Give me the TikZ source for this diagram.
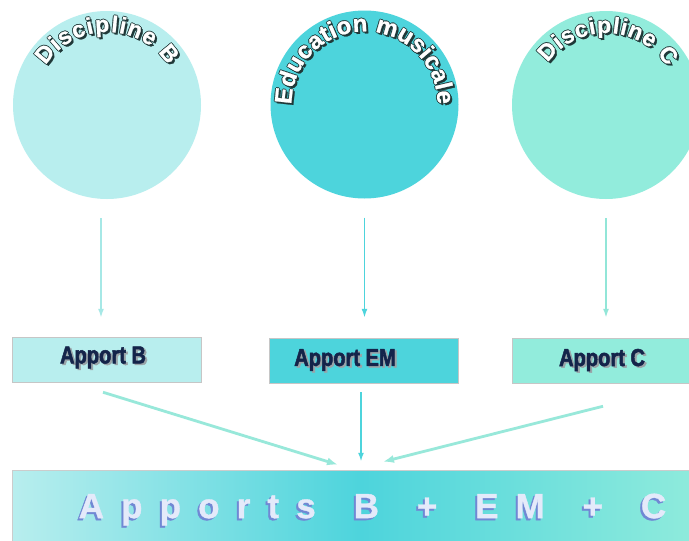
\documentclass[tikz,border=0pt]{standalone}
\usepackage{fontspec}
\setmainfont{Liberation Sans}
\newfontfamily\condfont[FakeStretch=0.82,FakeBold=2]{Liberation Sans}
\newfontfamily\arcfont[FakeBold=1]{Liberation Sans}
\newfontfamily\bigfont[LetterSpace=49,FakeBold=1]{Liberation Sans}
\usetikzlibrary{arrows.meta,decorations.text,calc}
\definecolor{colB}{HTML}{B8EEEE}
\definecolor{colEM}{HTML}{4DD4DC}
\definecolor{colC}{HTML}{92ECDC}
\definecolor{arrB}{HTML}{A6E8E6}
\definecolor{arrC}{HTML}{92E6D8}
\definecolor{arrD}{HTML}{98E8DA}
\definecolor{navytxt}{HTML}{14244A}
\definecolor{greyshadow}{HTML}{9AA4A8}
\definecolor{arcshadow}{HTML}{1F3838}
\definecolor{sumfill}{HTML}{E4EAFA}
\definecolor{sumshadow}{HTML}{7088D4}
\newcommand\arcword[6]{% #1 center, #2 radius, #3 start, #4 end, #5 font, #6 text
  \foreach \dx/\dy in {2/-2,0.9/0,-0.9/0,0/0.9,0/-0.9}{
    \path[decorate,decoration={text along path,text={|#5|#6},text align={fit to path},text color=arcshadow}]
      ([shift={(\dx,\dy)}]#1) ++(#3:#2) arc[start angle=#3,end angle=#4,radius=#2];
  }
  \path[decorate,decoration={text along path,text={|#5|#6},text align={fit to path},text color=white}]
    (#1) ++(#3:#2) arc[start angle=#3,end angle=#4,radius=#2];
}
\newcommand\wgap{\kern11pt{} }
\begin{document}
\begin{tikzpicture}[x=1pt,y=1pt,
  disc/.style={circle,minimum size=188pt,inner sep=0pt},
  abox/.style={rectangle,minimum width=189pt,minimum height=45pt,inner sep=0pt,draw=gray!45,line width=0.5pt},
  atext/.style={inner sep=0pt,font=\condfont\bfseries\fontsize{24.5}{25}\selectfont},
  varr/.style={line width=1.6pt,-{Latex[length=9pt,width=6pt]}},
  darr/.style={line width=2.8pt,draw=arrD,-{Latex[length=11pt,width=8pt]}},
  sumtxt/.style={inner sep=0pt,font=\bigfont\bfseries\fontsize{35}{36}\selectfont}]
\useasboundingbox (0,0) rectangle (689,-541);
\clip (0,0) rectangle (689,-541);
\fill[white] (0,0) rectangle (689,-541);

% circles
\node[disc,fill=colB] (cB) at (107,-105) {};
\node[disc,fill=colEM] (cEM) at (364.5,-104.5) {};
\node[disc,fill=colC] (cC) at (606,-105) {};

\arcword{cB.center}{73pt}{147}{33}{\arcfont\bfseries\fontsize{23}{24}\selectfont}{Discipline B}
\arcword{cEM.center}{73pt}{180}{0}{\arcfont\bfseries\fontsize{24}{25}\selectfont}{Education musicale}
\arcword{cC.center}{72pt}{144}{32}{\arcfont\bfseries\fontsize{23}{24}\selectfont}{Discipline C}

% apport boxes
\node[abox,fill=colB] (aB) at (106.5,-359.5) {};
\node[abox,fill=colEM] (aEM) at (364,-360.5) {};
\node[abox,fill=colC] (aC) at (606.5,-360.5) {};

\node[atext,text=greyshadow] (tBs) at ([shift={(-1.5,0.5)}]aB.center) {Apport B};
\node[atext,text=navytxt] (tB) at ([shift={(-3.5,2)}]aB.center) {Apport B};
\node[atext,text=greyshadow] (tEMs) at ([shift={(-17,-1)}]aEM.center) {Apport EM};
\node[atext,text=navytxt] (tEM) at ([shift={(-19,0.5)}]aEM.center) {Apport EM};
\node[atext,text=greyshadow] (tCs) at ([shift={(-2.5,-1)}]aC.center) {Apport C};
\node[atext,text=navytxt] (tC) at ([shift={(-4.5,0.5)}]aC.center) {Apport C};

% vertical arrows
\draw[varr,draw=arrB,shorten <=19pt,shorten >=19pt] ([xshift=-6pt]cB.south) -- ([xshift=-6pt]cB.south |- aB.north);
\draw[varr,draw=colEM,shorten <=19pt,shorten >=20pt] (cEM.south) -- (cEM.south |- aEM.north);
\draw[varr,draw=arrC,shorten <=19pt,shorten >=20pt] (cC.south) -- (cC.south |- aC.north);

% sum box
\node[rectangle,minimum width=698pt,minimum height=72pt,inner sep=0pt,draw=gray!40,line width=0.5pt,
  left color=colB,right color=colC,middle color=colEM] (sum) at (361,-506) {};

% diagonal arrows
\draw[darr] ([shift={(-3.5,-10)}]aB.south) -- ([shift={(-23,5)}]sum.north);
\draw[varr,draw=colEM,line width=2pt] ([shift={(-3,-9)}]aEM.south) -- ([yshift=8pt]sum.north);
\draw[darr] ([shift={(-3.5,-23)}]aC.south) -- ([shift={(22,8)}]sum.north);

% sum text
\node[sumtxt,text=sumshadow] (sTs) at (370.5,-511.5) {Apports\wgap B\wgap +\wgap EM\wgap +\wgap C};
\node[sumtxt,text=sumfill] (sT) at (372.5,-509.5) {Apports\wgap B\wgap +\wgap EM\wgap +\wgap C};
\end{tikzpicture}
\end{document}
